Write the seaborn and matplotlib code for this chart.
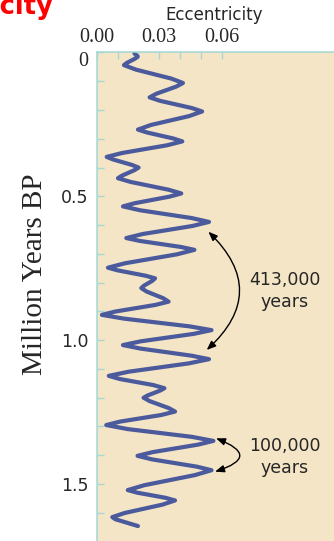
import matplotlib
matplotlib.use("Agg")
import matplotlib.pyplot as plt
import seaborn as sns
import pandas as pd

# eccentricity, top (0 Myr) to bottom; turning points plus shoulder points
ecc = [0.0181, 0.0197, 0.0184, 0.0144, 0.0131,
       0.0188, 0.0357, 0.0414, 0.0382, 0.0286, 0.0254,
       0.0304, 0.0456, 0.0506, 0.0444, 0.0260, 0.0198,
       0.0241, 0.0368, 0.0411, 0.0338, 0.0121, 0.0048,
       0.0079, 0.0170, 0.0201, 0.0181, 0.0122, 0.0102,
       0.0163, 0.0345, 0.0406, 0.0350, 0.0182, 0.0126,
       0.0209, 0.0456, 0.0539, 0.0460, 0.0221, 0.0142,
       0.0207, 0.0404, 0.0469, 0.0386, 0.0137, 0.0054,
       0.0099, 0.0235, 0.0280, 0.0267, 0.0227, 0.0214,
       0.0240, 0.0319, 0.0345, 0.0281, 0.0089, 0.0025,
       0.0130, 0.0446, 0.0551, 0.0466, 0.0211, 0.0126,
       0.0209, 0.0456, 0.0539, 0.0443, 0.0154, 0.0058,
       0.0111, 0.0272, 0.0325, 0.0305, 0.0245, 0.0225,
       0.0255, 0.0346, 0.0376, 0.0310, 0.0112, 0.0046,
       0.0149, 0.0457, 0.0560, 0.0487, 0.0269, 0.0196,
       0.0267, 0.0480, 0.0551, 0.0471, 0.0229, 0.0149,
       0.0194, 0.0331, 0.0376, 0.0316, 0.0135, 0.0075,
       0.0090, 0.0198]
myr = [0.003, 0.014, 0.0215, 0.0365, 0.044,
       0.0595, 0.0905, 0.106, 0.1185, 0.1435, 0.156,
       0.168, 0.193, 0.205, 0.221, 0.252, 0.268,
       0.278, 0.299, 0.309, 0.3225, 0.3495, 0.363,
       0.372, 0.391, 0.400, 0.409, 0.428, 0.437,
       0.450, 0.477, 0.490, 0.501, 0.524, 0.535,
       0.5485, 0.5755, 0.589, 0.603, 0.631, 0.645,
       0.655, 0.676, 0.686, 0.7015, 0.7325, 0.748,
       0.757, 0.776, 0.785, 0.7935, 0.8105, 0.819,
       0.831, 0.854, 0.866, 0.8775, 0.9005, 0.912,
       0.925, 0.952, 0.965, 0.978, 1.004, 1.017,
       1.029, 1.054, 1.066, 1.0805, 1.1095, 1.124,
       1.135, 1.156, 1.167, 1.175, 1.192, 1.200,
       1.212, 1.236, 1.248, 1.260, 1.283, 1.295,
       1.309, 1.336, 1.350, 1.363, 1.389, 1.402,
       1.4145, 1.4395, 1.452, 1.469, 1.504, 1.521,
       1.530, 1.548, 1.557, 1.5715, 1.6005, 1.615,
       1.6225, 1.646]

x_major = [0.0, 0.03, 0.06]
x_labels = ["0.00", "0.03", "0.06"]
x_minor = [0.01, 0.02, 0.04, 0.05]
y_major = [0.0, 0.5, 1.0, 1.5]
y_labels = ["0", "0.5", "1.0", "1.5"]
y_minor = [0.1, 0.2, 0.3, 0.4, 0.6, 0.7, 0.8, 0.9, 1.1, 1.2, 1.3, 1.4, 1.6]

# double arrows: top tip, bottom tip
arrow_413 = [(0.0536, 0.623), (0.0528, 1.034)]
arrow_100 = [(0.0573, 1.341), (0.0568, 1.457)]

df = pd.DataFrame({"Eccentricity": ecc, "Myr": myr})

sns.set_theme(style="ticks")
plt.rcParams["font.family"] = ["DejaVu Sans"]

bg = "#f4e5c6"
line_col = "#4b5a9c"
spine_col = "#a3d8d4"

fig = plt.figure(figsize=(3.34, 5.41), dpi=100)
ax = fig.add_axes([0.2895, 0.0, 0.7105, 0.903])
ax.set_facecolor(bg)

sns.lineplot(data=df, x="Eccentricity", y="Myr", sort=False, orient="y",
             estimator=None, color=line_col, linewidth=3.0, ax=ax)
ax.lines[0].set_solid_joinstyle("round")
ax.lines[0].set_solid_capstyle("round")

ax.set_xlim(0, 0.1139)
ax.set_ylim(1.698, 0)
ax.xaxis.tick_top()
ax.set_xticks(x_major)
ax.set_xticklabels(x_labels, fontfamily="Liberation Serif", fontsize=14.5)
ax.set_xticks(x_minor, minor=True)
ax.set_yticks(y_major)
ax.set_yticklabels(y_labels, fontsize=12.5)
ax.set_yticks(y_minor, minor=True)
ax.tick_params(which="both", direction="in", length=5, width=1, color=spine_col)
ax.tick_params(axis="x", which="both", top=True, bottom=False, pad=4)
ax.tick_params(axis="y", which="both", left=True, right=False, pad=6)
# the "0" sits just under the top spine in the original, in the serif face
lbl0 = ax.get_yticklabels()[0]
lbl0.set_va("top")
lbl0.set_fontfamily("Liberation Serif")
lbl0.set_fontsize(14.5)
ax.set_xlabel("")
ax.set_ylabel("")
for s in ["right", "bottom"]:
    ax.spines[s].set_visible(False)
for s in ["top", "left"]:
    ax.spines[s].set_color(spine_col)
    ax.spines[s].set_linewidth(1.1)

astyle = dict(arrowstyle="<|-|>,head_length=0.45,head_width=0.18", color="black",
              lw=1.0, shrinkA=0, shrinkB=0)
ax.annotate("", xy=arrow_413[1], xytext=arrow_413[0],
            arrowprops=dict(connectionstyle="arc3,rad=-0.53", **astyle))
ax.annotate("", xy=arrow_100[1], xytext=arrow_100[0],
            arrowprops=dict(connectionstyle="arc3,rad=-1.4", **astyle))
ax.text(0.0904, 0.829, "413,000\nyears", ha="center", va="center", fontsize=12.5,
        linespacing=1.25)
ax.text(0.0904, 1.406, "100,000\nyears", ha="center", va="center", fontsize=12.5,
        linespacing=1.25)

fig.text(214 / 334, 1 - 15 / 541, "Eccentricity", ha="center", va="center", fontsize=12)
fig.text(35 / 334, 1 - 274 / 541, "Million Years BP", rotation=90, ha="center",
         va="center", fontsize=21, fontfamily="Liberation Serif")
# tail of a red heading that runs off the left edge
fig.text(53 / 334, 1 - 14 / 541, "Eccentricity", ha="right", va="baseline",
         fontsize=18.5, fontweight="bold", color="#ff0000")

fig.savefig("out.png", dpi=100)
